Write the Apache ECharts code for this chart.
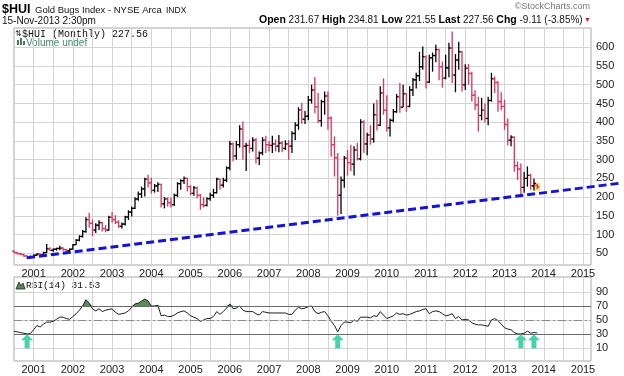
<!DOCTYPE html>
<html>
<head>
<meta charset="utf-8">
<script src="https://cdn.jsdelivr.net/npm/echarts@6/dist/echarts.min.js"></script>
<style>
html, body { margin: 0; padding: 0; background: #fff; }
#chart { width: 624px; height: 376px; }
</style>
</head>
<body>
<div id="chart"></div>
<script>
// monthly bars, first one is Jul 2000
const firstYear = 2000, firstMonth = 7;

const opens = [56,52,49,47,43,38, 41,45,48,46,52,62,58,61,63,64,60,57,
  61,73,85,95,108,140,130,112,125,132,116,112, 146,140,133,122,128,147,160,170,195,208,222,248,
  238,218,230,234,182,195,185,180,205,236,244,250, 228,210,225,205,180,178,196,205,212,248,232,245,
  278,342,310,340,382,336,338,330,352,304,318,352, 340,338,342,336,344,330,342,336,370,392,433,408,
  416,459,486,441,404,455,470,411,340,305,205,245, 304,292,288,326,302,400,342,366,355,420,392,478,
  432,385,405,428,468,440,476,442,486,513,524,548, 575,507,572,578,594,548,518,545,598,526,566,588,
  500,544,530,472,446,418,432,410,458,516,506,455, 442,394,352,360,284,275,226,250,258,230,231.67];
const highs = [58,54,52,49,45,44, 47,50,50,54,75,66,63,65,70,66,62,63,
  75,88,98,112,146,158,140,130,138,134,125,150, 160,152,138,132,150,165,175,200,215,228,252,260,
  252,235,240,236,200,200,198,210,240,248,255,252, 232,230,228,208,200,200,212,222,252,250,252,282,
  350,346,350,392,402,345,352,360,358,322,360,364, 350,364,354,366,350,352,352,376,400,440,452,430,
  470,500,521,478,460,482,482,415,362,318,255,310, 326,340,336,345,408,405,372,392,450,460,496,517,
  472,410,435,475,505,500,478,496,518,532,588,602, 578,580,586,607,596,562,580,612,642,582,615,590,
  555,556,535,485,468,465,450,468,532,522,510,480, 460,410,365,362,295,290,268,282,262,250,234.81];
const lows = [50,47,45,41,35,37, 39,43,43,45,51,56,54,57,58,57,55,55,
  60,72,82,92,105,118,96,104,112,108,106,110, 132,128,118,116,124,139,148,168,190,198,202,226,
  210,212,214,172,170,175,172,176,200,220,235,215, 205,204,196,166,172,175,190,198,210,220,226,240,
  272,296,300,332,300,270,318,322,290,286,312,318, 322,318,322,320,320,326,300,318,352,380,396,395,
  405,450,424,398,388,420,380,308,255,150,155,225, 258,270,258,298,298,318,312,340,345,378,390,420,
  375,362,400,425,425,440,428,440,470,490,510,540, 490,505,535,560,512,492,515,520,505,480,540,482,
  486,500,455,432,375,405,400,392,455,478,428,432, 380,338,336,268,246,206,212,228,220,218,221.55];
const closes = [52,49,47,43,38,41, 45,48,46,52,62,58,61,63,64,60,57,61,
  73,85,95,108,140,130,112,125,132,116,112,146, 140,133,122,128,147,160,170,195,208,222,248,238,
  218,230,234,182,195,185,180,205,236,244,250,228, 210,225,205,180,178,196,205,212,248,232,245,278,
  342,310,340,382,336,338,330,352,304,318,352,340, 338,342,336,344,330,342,336,370,392,433,408,416,
  459,486,441,404,455,470,411,340,305,205,245,304, 292,288,326,302,400,342,366,355,420,392,478,432,
  385,405,428,468,440,476,442,486,513,524,548,575, 507,572,578,594,548,518,545,598,526,566,588,500,
  544,530,472,446,418,432,410,458,516,506,455,442, 394,352,360,284,275,226,250,258,230,236.67,227.56];

const rsi = [34,33,32,31,30,30.5, 36,42,40,44,47,47,48,51,54,54,52,51,
  55,59,64,70,79,74,66,63,66,62,64,65, 66,61,58,59,60,63,68,73,74,77,80,77,
  70,70,71,56,57,55,55,57,60,62,63,60, 56,54,52,48,50,52,52,55,62,58,62,67,
  73,66,67,70,64,62,62,62,59,57,62,61, 60,60,60,60,60,60,58,58,64,68,66,67,
  69,70,62,59,61,62,56,48,42,33,42,47, 47,46,50,48,54,54,54,53,56,55,62,57,
  52,54,56,60,58,59,57,58,60,62,63,65, 66,59,62,63,62,59,56,57,59,52,55,50,
  51,50,46,44,43,43,42,41,50,52,49,44, 39,37,36,32,30,30,31,34,31,32,31.5];

// trend line end points [year, month, value]
const trendLine = [[2000, 11, 38], [2016, 1, 238]];
// oversold arrows in the RSI panel
const arrowMonths = [[2000, 11], [2008, 10], [2013, 6], [2013, 10]];

const priceTicks = [50,100,150,200,250,300,350,400,450,500,550,600];
const rsiTicks = [10,30,50,70,90];

const RED = '#d8365e';
const t = (y, m) => y + (m - 1) / 12;

let ohlc = [];
for (let i = 0; i < closes.length; i++) {
  let m = firstMonth - 1 + i;
  let x = t(firstYear + Math.floor(m / 12), (m % 12) + 1);
  let prev = i > 0 ? closes[i - 1] : opens[i];
  ohlc.push([x, opens[i], highs[i], lows[i], closes[i], closes[i] >= prev ? 1 : 0]);
}
const rsiData = ohlc.map((d, i) => [d[0], rsi[i]]);
const rsiFill = ohlc.map((d, i) => [d[0], Math.max(rsi[i], 70)]);
const last = ohlc[ohlc.length - 1];
const trendSeg = [[t(trendLine[0][0], trendLine[0][1]), trendLine[0][2],
                   t(trendLine[1][0], trendLine[1][1]), trendLine[1][2]]];

let chart = echarts.init(document.getElementById('chart'));

const yearLabel = v => Number.isInteger(v) ? String(v) : '';
const gridLine = { show: true, lineStyle: { color: '#d4d4d4', width: 1 } };
const font = '"Liberation Sans", Arial, sans-serif';

let option = {
  animation: false,
  grid: [
    { left: 14, right: 33, top: 28, height: 237, show: true, borderColor: '#a8a8a8', borderWidth: 1 },
    { left: 14, right: 33, top: 277, height: 84, show: true, borderColor: '#a8a8a8', borderWidth: 1 }
  ],
  xAxis: [0, 1].map(g => ({
    type: 'value', gridIndex: g, min: 2000.5, max: 2015.204, interval: 0.5,
    axisLine: { show: false }, axisTick: { show: false },
    axisLabel: { formatter: yearLabel, fontSize: 11, color: '#222', margin: 3, fontFamily: font },
    splitLine: gridLine
  })),
  yAxis: [
    {
      type: 'value', gridIndex: 0, position: 'right', min: 18.8, max: 651.5,
      axisLine: { show: false },
      axisTick: { show: false, customValues: priceTicks },
      axisLabel: { customValues: priceTicks, fontSize: 11, color: '#222', margin: 5, fontFamily: font },
      splitLine: gridLine
    },
    {
      type: 'value', gridIndex: 1, position: 'right', min: -8.6, max: 111.4,
      axisLine: { show: false },
      axisTick: { show: false, customValues: rsiTicks },
      axisLabel: { customValues: rsiTicks, fontSize: 11, color: '#222', margin: 5, fontFamily: font },
      splitLine: gridLine
    }
  ],
  series: [
    {
      type: 'scatter', xAxisIndex: 0, yAxisIndex: 0,
      data: [[last[0], last[4]]], symbol: 'rect', symbolSize: [6, 8],
      itemStyle: { color: '#ffd84a' }, z: 1
    },
    {
      type: 'custom', xAxisIndex: 0, yAxisIndex: 0, data: ohlc, z: 3,
      renderItem: (params, api) => {
        let x = api.value(0);
        let pH = api.coord([x, api.value(2)]);
        let pL = api.coord([x, api.value(3)]);
        let pO = api.coord([x, api.value(1)]);
        let pC = api.coord([x, api.value(4)]);
        let color = api.value(5) ? '#000' : RED;
        let st = { stroke: color, lineWidth: 1.3 };
        return {
          type: 'group',
          children: [
            { type: 'line', shape: { x1: pH[0], y1: pH[1], x2: pL[0], y2: pL[1] }, style: st },
            { type: 'line', shape: { x1: pO[0] - 2, y1: pO[1], x2: pO[0], y2: pO[1] }, style: st },
            { type: 'line', shape: { x1: pC[0], y1: pC[1], x2: pC[0] + 2.2, y2: pC[1] }, style: st }
          ]
        };
      }
    },
    {
      // the trend line runs on past the right edge of the panel
      type: 'custom', xAxisIndex: 0, yAxisIndex: 0, clip: false, z: 5, data: trendSeg,
      encode: { x: [0, 2], y: [1, 3] },
      renderItem: (params, api) => {
        let a = api.coord([api.value(0), api.value(1)]);
        let b = api.coord([api.value(2), api.value(3)]);
        return {
          type: 'line', shape: { x1: a[0], y1: a[1], x2: b[0], y2: b[1] },
          style: { stroke: '#1414d2', lineWidth: 3, lineDash: [8, 4] }
        };
      }
    },
    {
      type: 'line', xAxisIndex: 1, yAxisIndex: 1, data: rsiFill, symbol: 'none', z: 2,
      lineStyle: { width: 0 },
      areaStyle: { origin: 70, color: '#5c8a5c', opacity: 1 }
    },
    {
      type: 'line', xAxisIndex: 1, yAxisIndex: 1, data: rsiData, symbol: 'none', z: 4,
      lineStyle: { color: '#1c1c1c', width: 1 },
      markLine: {
        symbol: 'none', silent: true, label: { show: false },
        data: [
          { yAxis: 70, lineStyle: { color: '#6a6a6a', width: 1, type: 'solid' } },
          { yAxis: 30, lineStyle: { color: '#6a6a6a', width: 1, type: 'solid' } },
          { yAxis: 50, lineStyle: { color: '#8a8a8a', width: 1, type: [8, 3, 2, 3] } }
        ]
      }
    },
    {
      type: 'scatter', xAxisIndex: 1, yAxisIndex: 1, z: 6,
      data: arrowMonths.map(d => [t(d[0], d[1]), 19.5]),
      symbol: 'path://M6,0 L12,6 L8.5,6 L8.5,14 L3.5,14 L3.5,6 L0,6 Z',
      symbolSize: [12, 14],
      itemStyle: { color: '#1cc597' }
    }
  ],
  graphic: [
    { type: 'text', left: 2, top: 3, style: { text: '$HUI', font: 'bold 12.5px ' + font, fill: '#000' } },
    { type: 'text', left: 35, top: 5, style: { text: 'Gold Bugs Index - NYSE Arca', font: '9.5px ' + font, fill: '#111' } },
    { type: 'text', left: 166, top: 6, style: { text: 'INDX', font: '8.5px ' + font, fill: '#111' } },
    { type: 'text', left: 2, top: 16, style: { text: '15-Nov-2013 2:30pm', font: '10px ' + font, fill: '#111' } },
    { type: 'text', right: 34, top: 2, style: { text: '\u00a9StockCharts.com', font: '9px ' + font, fill: '#777' } },
    {
      type: 'text', left: 259, top: 15,
      style: {
        text: '{b|Open} 231.67 {b|High} 234.81 {b|Low} 221.55 {b|Last} 227.56 {b|Chg} -9.11 (-3.85%)',
        font: '10px ' + font, fill: '#111',
        rich: { b: { font: 'bold 10.5px ' + font, fill: '#000' } }
      }
    },
    { type: 'text', left: 584, top: 17, style: { text: '\u25bc', font: '7px ' + font, fill: '#d2203c' } },
    { type: 'text', left: 15, top: 30, style: { text: '\u21c5', font: '8px ' + font, fill: '#333' } },
    { type: 'text', left: 22, top: 29, style: { text: '$HUI (Monthly) 227.56', font: '10px "Liberation Mono", monospace', fill: '#111' } },
    { type: 'rect', shape: { x: 17, y: 40, width: 2, height: 5 }, style: { fill: '#4c7a5c' } },
    { type: 'rect', shape: { x: 20, y: 38, width: 2, height: 7 }, style: { fill: '#4c7a5c' } },
    { type: 'rect', shape: { x: 23, y: 41, width: 2, height: 4 }, style: { fill: '#4c7a5c' } },
    { type: 'text', left: 26, top: 38, style: { text: 'Volume undef', font: '10px ' + font, fill: '#3f8a6a' } },
    { type: 'polygon', shape: { points: [[16, 289], [19, 282], [21, 286], [23, 283], [25, 289]] }, style: { fill: '#5c8a5c', stroke: '#222', lineWidth: 0.8 } },
    { type: 'text', left: 26, top: 280, style: { text: 'RSI(14) 31.53', font: '9.5px "Liberation Mono", monospace', fill: '#111' } }
  ]
};

chart.setOption(option);
</script>
</body>
</html>
